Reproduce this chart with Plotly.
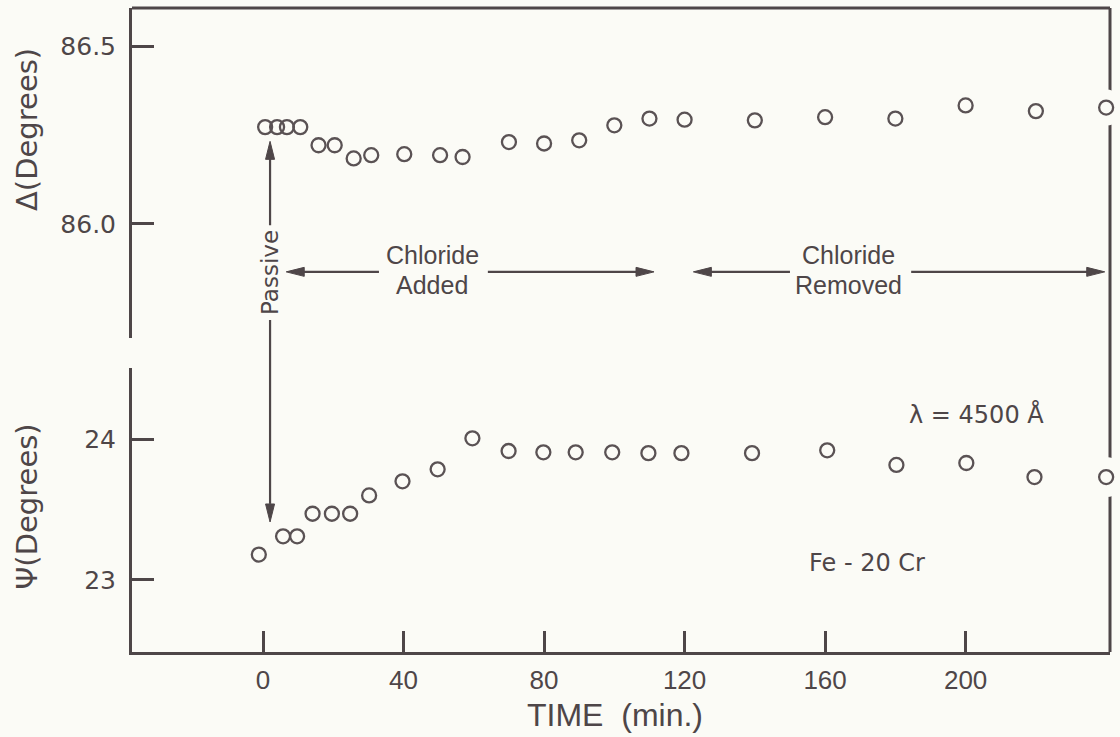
import plotly.graph_objects as go

# ---------------- data ----------------
time_delta = [0.6, 4.0, 6.8, 10.6, 15.8, 20.4, 25.8, 30.8, 40.2, 50.4, 56.8,
              70, 80, 90, 100, 110, 120, 140, 160, 180, 200, 220, 240]
delta_deg = [86.272, 86.272, 86.272, 86.272, 86.221, 86.221, 86.184, 86.193, 86.196,
             86.193, 86.188, 86.230, 86.226, 86.235, 86.277, 86.296, 86.293, 86.291,
             86.300, 86.296, 86.333, 86.317, 86.327]

time_psi = [-1.2, 5.7, 9.7, 14.1, 19.6, 24.8, 30.2, 39.7, 49.7, 59.6, 69.9, 79.8,
            89.0, 99.4, 109.7, 119.1, 139.2, 160.6, 180.3, 200.2, 219.6, 240]
psi_deg = [23.18, 23.31, 23.31, 23.47, 23.47, 23.47, 23.60, 23.70, 23.785, 24.005,
           23.915, 23.906, 23.906, 23.906, 23.90, 23.90, 23.90, 23.92, 23.816, 23.83,
           23.73, 23.73]

x_ticks = [0, 40, 80, 120, 160, 200]
x_ticktext = ["0", "40", "80", "120", "160", "200"]
delta_ticks = [86.0, 86.5]
delta_ticktext = ["86.0", "86.5"]
psi_ticks = [23, 24]
psi_ticktext = ["23", "24"]

# ---------------- style ----------------
BG = "#fbfbf6"
INK = "#4e4648"
MARK = "#5a5254"
GEO = "DejaVu Sans"
SANS = "Liberation Sans, Arial, sans-serif"

X_RANGE = [-37.3, 241.1]
D_RANGE = [85.679, 86.607]
P_RANGE = [22.489, 24.504]

fig = go.Figure()

# halos that open gaps in the right frame line around the last points
fig.add_trace(go.Scatter(x=time_delta[-1:], y=delta_deg[-1:], mode="markers",
                         marker=dict(symbol="circle", size=36, color=BG),
                         cliponaxis=False, hoverinfo="skip", showlegend=False,
                         xaxis="x", yaxis="y"))
fig.add_trace(go.Scatter(x=time_psi[-1:], y=psi_deg[-1:], mode="markers",
                         marker=dict(symbol="circle", size=40, color=BG),
                         cliponaxis=False, hoverinfo="skip", showlegend=False,
                         xaxis="x", yaxis="y2"))

fig.add_trace(go.Scatter(x=time_delta, y=delta_deg, mode="markers",
                         marker=dict(symbol="circle-open", size=14, color=MARK,
                                     line=dict(width=2.3, color=MARK)),
                         cliponaxis=False, showlegend=False, xaxis="x", yaxis="y"))
fig.add_trace(go.Scatter(x=time_psi, y=psi_deg, mode="markers",
                         marker=dict(symbol="circle-open", size=14, color=MARK,
                                     line=dict(width=2.3, color=MARK)),
                         cliponaxis=False, showlegend=False, xaxis="x", yaxis="y2"))

shapes = []
# right frame line and top border
shapes.append(dict(type="line", xref="paper", yref="paper", x0=1, x1=1, y0=0, y1=1,
                   line=dict(color=INK, width=3), layer="below"))
shapes.append(dict(type="line", xref="paper", yref="paper", x0=0, x1=1, y0=1, y1=1,
                   line=dict(color=INK, width=3), layer="above"))

HL, HW = 18, 4.5


def head(x, y, direction, xref, yref):
    if direction == "left":
        p = f"M0,0 L{HL},{HW} L{HL},{-HW} Z"
    elif direction == "right":
        p = f"M0,0 L{-HL},{HW} L{-HL},{-HW} Z"
    elif direction == "up":
        p = f"M0,0 L{HW},{-HL} L{-HW},{-HL} Z"
    else:
        p = f"M0,0 L{HW},{HL} L{-HW},{HL} Z"
    return dict(type="path", xref=xref, yref=yref, xsizemode="pixel", ysizemode="pixel",
                xanchor=x, yanchor=y, path=p, fillcolor=INK,
                line=dict(color=INK, width=1), layer="above")


def seg(x0, y0, x1, y1, xref, yref):
    return dict(type="line", xref=xref, yref=yref, x0=x0, y0=y0, x1=x1, y1=y1,
                line=dict(color=INK, width=2.2), layer="above")


# Passive arrows
PX = 2.0
shapes.append(seg(PX, 85.996, PX, 86.20, "x", "y"))
shapes.append(head(PX, 86.232, "up", "x", "y"))
shapes.append(seg(PX, 0.5155, PX, 0.23, "x", "paper"))
shapes.append(head(PX, 0.2019, "down", "x", "paper"))

# Chloride arrows
CY = 85.865
shapes.append(seg(33.0, CY, 10.0, CY, "x", "y"))
shapes.append(head(6.6, CY, "left", "x", "y"))
shapes.append(seg(64.0, CY, 107.0, CY, "x", "y"))
shapes.append(head(111.3, CY, "right", "x", "y"))
shapes.append(seg(150.0, CY, 126.0, CY, "x", "y"))
shapes.append(head(122.5, CY, "left", "x", "y"))
shapes.append(seg(184.5, CY, 235.0, CY, "x", "y"))
shapes.append(head(239.6, CY, "right", "x", "y"))


def label(text, x, y, size, family, xref="x", yref="y", angle=0):
    return dict(text=text, xref=xref, yref=yref, x=x, y=y, textangle=angle,
                xanchor="center", yanchor="middle", showarrow=False,
                font=dict(family=family, size=size, color=INK))


annotations = [
    dict(label("Δ(Degrees)", 0, 0.8106, 29, GEO, "paper", "paper", -90), xshift=-105),
    dict(label("Ψ(Degrees)", 0, 0.226, 29, GEO, "paper", "paper", -90), xshift=-105),
    label("Passive", PX, 85.862, 23, GEO, angle=-90),
    label("Chloride", 48.1, 85.912, 25, SANS),
    label("Added", 48.1, 85.827, 25, SANS),
    label("Chloride", 166.7, 85.912, 25, SANS),
    label("Removed", 166.7, 85.827, 25, SANS),
    label("λ = 4500 Å", 203.1, 24.177, 24, GEO, "x", "y2"),
    label("Fe - 20 Cr", 171.8, 23.12, 24, GEO, "x", "y2"),
    dict(label("TIME  (min.)", 0.494, 0, 32, SANS, "paper", "paper"), yshift=-63),
]

axis_common = dict(showgrid=False, zeroline=False, showline=True, linecolor=INK,
                   linewidth=3, ticks="inside", tickcolor=INK, tickwidth=2.5)

fig.update_layout(
    width=1120, height=737,
    margin=dict(l=132, r=10, t=8, b=85),
    paper_bgcolor=BG, plot_bgcolor=BG,
    showlegend=False,
    xaxis=dict(domain=[0, 1], anchor="y2", range=X_RANGE, tickvals=x_ticks,
               ticktext=x_ticktext, ticklen=21, ticklabelstandoff=3,
               tickfont=dict(family=SANS, size=26, color=INK), **axis_common),
    yaxis=dict(domain=[0.4876, 1], anchor="x", range=D_RANGE, tickvals=delta_ticks,
               ticktext=delta_ticktext, ticklen=22, ticklabelstandoff=8,
               tickfont=dict(family=GEO, size=25, color=INK), **axis_common),
    yaxis2=dict(domain=[0, 0.441], anchor="x", range=P_RANGE, tickvals=psi_ticks,
                ticktext=psi_ticktext, ticklen=22, ticklabelstandoff=8,
                tickfont=dict(family=GEO, size=25, color=INK), **axis_common),
    shapes=shapes,
    annotations=annotations,
)

fig.write_html("out.html")
